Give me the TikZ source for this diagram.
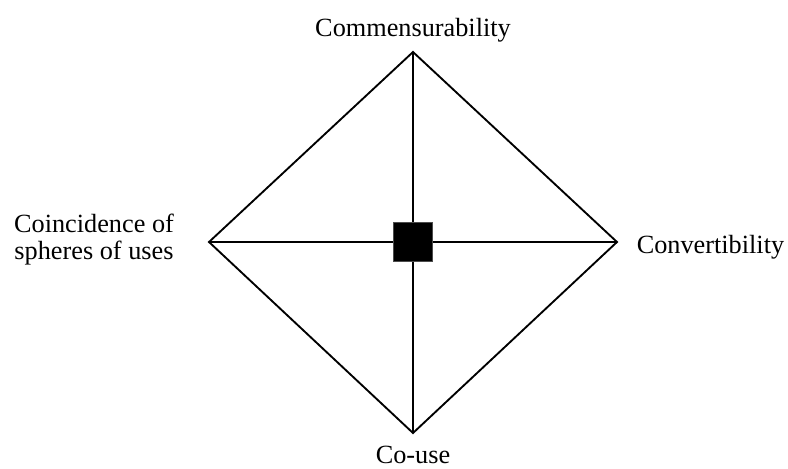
\documentclass[tikz,border=0pt]{standalone}
\usepackage{fontspec}
\setmainfont{Liberation Serif}
\begin{document}
\begin{tikzpicture}[x=0.75pt,y=-0.75pt,
  edge/.style={draw=black,line width=1.4pt,line join=miter},
  lab/.style={inner sep=0pt,font=\fontsize{19.7}{20.3}\selectfont},
  hub/.style={fill=black,draw=black!70,line width=0.6pt,minimum size=29pt,inner sep=0pt}]
\useasboundingbox (0,0) rectangle (788,468);
\coordinate (T) at (413,52);
\coordinate (B) at (413,433);
\coordinate (L) at (209,242);
\coordinate (R) at (617,242);
\draw[edge] (T) -- (R) -- (B) -- (L) -- cycle;
\draw[edge] (T) -- (B);
\draw[edge] (L) -- (R);
\node[hub] (C) at (413,242) {};
\node[lab,anchor=base] (t1) at (413,36.7) {Commensurability};
\node[lab,anchor=base west] (t2) at (636.5,253) {Convertibility};
\node[lab,anchor=base] (t3) at (413,463) {Co-use};
\node[lab,align=center] (t4) at (94,240) {Coincidence of\\spheres of uses};
\end{tikzpicture}
\end{document}
